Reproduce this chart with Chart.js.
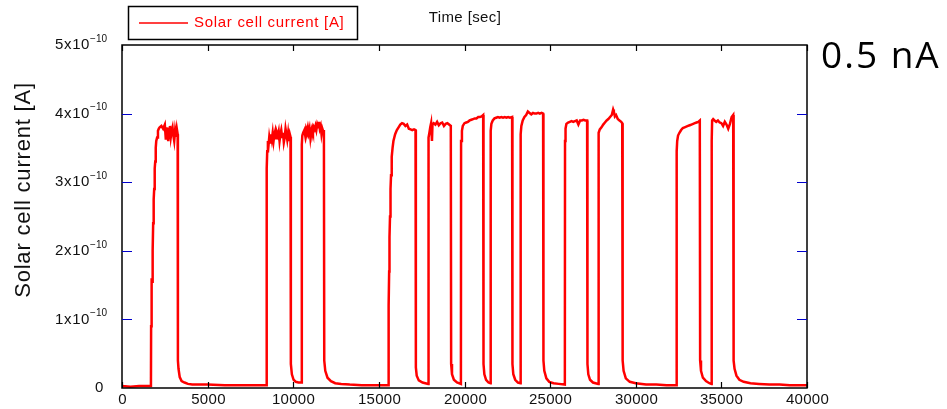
<!DOCTYPE html>
<html><head><meta charset="utf-8">
<script src="https://cdn.jsdelivr.net/npm/chart.js@4/dist/chart.umd.min.js"></script>
<style>html,body{margin:0;padding:0;background:#fff;overflow:hidden}canvas{display:block}</style>
</head><body>
<canvas id="c" width="947" height="409"></canvas>
<script>
// Time axis values [sec]
const timeSec = [
  0,500,1000,1500,1690,
  1700,1720,1740,1760,1790,1820,1850,1880,1910,1940,1970,2000,2050,2100,2150,2200,2300,2400,2500,2560,2600,2650,2700,2750,2800,2850,2900,2950,3000,3050,3100,3150,3200,3250,
  3265,3300,3370,3480,3650,3850,4100,4500,5000,6000,7000,8000,8440,
  8450,8480,8520,8560,8600,8650,8700,8750,8800,8850,8900,8950,9000,9050,9100,9150,9200,9250,9300,9350,9400,9450,9500,9550,9600,9650,9700,9750,9800,9840,
  9860,9920,10020,10150,10300,10480,
  10500,10530,10580,10650,10700,10750,10800,10850,10900,10950,11000,11050,11100,11150,11200,11250,11300,11350,11400,11450,11500,11550,11600,11650,11700,11750,11790,
  11810,11870,12000,12200,12450,12800,13300,14000,14700,15540,
  15560,15580,15600,15620,15650,15680,15710,15750,15800,15850,15950,16050,16150,16250,16350,16450,16550,16650,16750,16850,16950,17050,17140,
  17160,17210,17330,17550,17880,
  17890,17910,17950,18000,18050,18100,18130,18200,18300,18400,18500,18600,18700,18800,18900,19000,19100,19200,
  19220,19270,19380,19560,19790,
  19800,19850,19900,20000,20100,20200,20300,20400,20500,20600,20700,20800,20900,21000,21090,
  21110,21160,21260,21400,21520,
  21530,21570,21650,21750,21850,21950,22050,22150,22250,22350,22450,22550,22650,22780,
  22800,22850,22960,23120,23270,
  23280,23320,23400,23500,23600,23700,23800,23900,24000,24100,24200,24300,24400,24500,24590,
  24610,24660,24780,24950,25200,25500,25860,
  25870,25900,25950,26050,26150,26250,26350,26450,26550,26650,26750,26850,26950,27050,27160,
  27180,27230,27330,27500,27810,
  27815,27850,27900,28000,28100,28200,28300,28400,28500,28600,28680,28720,28780,28850,28950,29050,29150,29210,
  29235,29290,29420,29650,30000,30600,31200,31800,32380,
  32390,32420,32470,32550,32650,32750,32850,32950,33050,33150,33250,33350,33450,33550,33650,33740,
  33760,33810,33920,34100,34300,34425,
  34435,34460,34520,34600,34700,34800,34900,35000,35100,35200,35300,35400,35500,35600,35690,
  35715,35770,35880,36050,36300,36700,37200,37800,38400,39000,39500,40000
];
// Solar cell current in units of 1x10^-10 A
const currentE10 = [
  0.03,0.02,0.03,0.03,0.03,
  0.9,1.3,1.6,1.55,2.0,2.4,2.75,2.9,3.2,3.3,3.5,3.6,3.65,3.75,3.78,3.8,3.82,3.78,3.84,3.62,3.8,3.7,3.6,3.78,3.82,3.66,3.75,3.8,3.68,3.6,3.75,3.66,3.78,3.7,
  0.4,0.28,0.16,0.1,0.08,0.06,0.05,0.05,0.05,0.04,0.04,0.04,0.04,
  3.2,3.45,3.6,3.55,3.66,3.58,3.7,3.62,3.72,3.6,3.7,3.75,3.64,3.72,3.68,3.74,3.6,3.7,3.76,3.66,3.72,3.58,3.65,3.78,3.7,3.62,3.72,3.6,3.7,3.66,
  0.35,0.2,0.12,0.09,0.08,0.08,
  3.55,3.68,3.72,3.76,3.68,3.78,3.74,3.8,3.72,3.78,3.65,3.76,3.8,3.74,3.8,3.77,3.82,3.76,3.84,3.8,3.88,3.78,3.82,3.7,3.78,3.74,3.76,
  0.4,0.25,0.15,0.1,0.07,0.06,0.05,0.04,0.04,0.04,
  0.65,1.2,1.7,2.2,2.5,2.9,3.1,3.37,3.5,3.6,3.7,3.76,3.8,3.84,3.86,3.85,3.82,3.84,3.78,3.77,3.76,3.77,3.76,
  0.3,0.18,0.11,0.08,0.06,
  3.4,3.65,3.72,3.8,3.86,3.6,3.84,3.86,3.84,3.88,3.83,3.86,3.87,3.82,3.85,3.86,3.84,3.82,
  0.35,0.2,0.12,0.08,0.06,
  3.6,3.75,3.82,3.86,3.87,3.88,3.9,3.91,3.92,3.93,3.93,3.95,3.95,3.96,3.98,
  0.35,0.2,0.12,0.08,0.07,
  3.75,3.85,3.9,3.93,3.94,3.95,3.94,3.95,3.94,3.95,3.94,3.95,3.94,3.95,
  0.35,0.2,0.12,0.08,0.07,
  3.7,3.82,3.9,3.95,3.98,4.03,4.01,3.99,4.01,4.0,4.0,4.01,4.0,4.01,4.0,
  0.4,0.25,0.14,0.09,0.07,0.06,0.05,
  3.6,3.78,3.85,3.87,3.88,3.89,3.88,3.89,3.9,3.84,3.9,3.9,3.91,3.9,3.9,
  0.35,0.2,0.12,0.08,0.06,
  3.6,3.72,3.77,3.8,3.84,3.87,3.9,3.92,3.95,3.98,4.06,4.03,3.96,3.98,3.92,3.9,3.88,3.86,
  0.4,0.25,0.14,0.09,0.07,0.05,0.05,0.04,0.04,
  3.45,3.6,3.68,3.72,3.76,3.79,3.8,3.81,3.82,3.83,3.84,3.85,3.86,3.87,3.88,3.9,
  0.4,0.25,0.15,0.1,0.07,0.06,
  3.6,3.9,3.92,3.9,3.88,3.9,3.87,3.86,3.82,3.88,3.84,3.78,3.85,3.95,3.98,
  0.4,0.28,0.18,0.12,0.09,0.07,0.06,0.05,0.05,0.04,0.04,0.04
];
const xTickValues = [0,5000,10000,15000,20000,25000,30000,35000,40000];
const xTickLabels = ["0","5000","10000","15000","20000","25000","30000","35000","40000"];
const yTickBase = ["0","1x10","2x10","3x10","4x10","5x10"];
const yTickExp  = ["","\u221210","\u221210","\u221210","\u221210","\u221210"];
const seriesLabel = "Solar cell current [A]";
const yTitle = "Solar cell current [A]";
const xTitle = "Time [sec]";
const sideNote = "0.5 nA";

const FONT = "'Liberation Sans', Arial, sans-serif";

const decor = {
  id: 'decor',
  afterDraw(chart) {
    const ctx = chart.ctx;
    const a = chart.chartArea;
    const xs = chart.scales.x, ys = chart.scales.y;
    ctx.save();
    // frame
    ctx.strokeStyle = '#000';
    ctx.lineWidth = 1.5;
    ctx.strokeRect(a.left, a.top, a.right - a.left, a.bottom - a.top);
    // x tick marks (inside, top and bottom) and labels
    ctx.lineWidth = 1.2;
    ctx.fillStyle = '#111';
    ctx.font = '15px ' + FONT;
    ctx.letterSpacing = '0.3px';
    ctx.textAlign = 'center';
    ctx.textBaseline = 'middle';
    xs.ticks.forEach((t, i) => {
      const px = Math.round(xs.getPixelForValue(t.value)) + 0.5;
      ctx.beginPath();
      ctx.moveTo(px, a.bottom); ctx.lineTo(px, a.bottom - 6);
      ctx.moveTo(px, a.top); ctx.lineTo(px, a.top + 6);
      ctx.stroke();
      ctx.fillText(xTickLabels[i], px, 400);
    });
    // y tick marks (inside, blue, left and right)
    ctx.strokeStyle = '#0000cc';
    ctx.lineWidth = 1.2;
    ys.ticks.forEach(t => {
      if (t.value === 0 || t.value === 5) return;
      const py = Math.round(ys.getPixelForValue(t.value)) + 0.5;
      ctx.beginPath();
      ctx.moveTo(a.left, py); ctx.lineTo(a.left + 10, py);
      ctx.moveTo(a.right, py); ctx.lineTo(a.right - 10, py);
      ctx.stroke();
    });
    // y tick labels with superscripts
    ctx.fillStyle = '#111';
    ctx.textBaseline = 'middle';
    ys.ticks.forEach((t, i) => {
      const py = ys.getPixelForValue(t.value);
      const base = yTickBase[i], exp = yTickExp[i];
      ctx.font = '15px ' + FONT;
      ctx.letterSpacing = '0.6px';
      if (!exp) {
        ctx.textAlign = 'right';
        ctx.fillText(base, 104, py);
        return;
      }
      ctx.font = '10px ' + FONT;
      ctx.letterSpacing = '0px';
      const ew = ctx.measureText(exp).width;
      ctx.textAlign = 'right';
      ctx.fillText(exp, 107, py - 6);
      ctx.font = '15px ' + FONT;
      ctx.letterSpacing = '0.6px';
      ctx.fillText(base, 107 - ew, py);
    });
    ctx.letterSpacing = '0px';
    // y title
    ctx.save();
    ctx.translate(24, 190);
    ctx.rotate(-Math.PI / 2);
    ctx.font = '22px ' + FONT;
    ctx.letterSpacing = '0.8px';
    ctx.fillStyle = '#111';
    ctx.textAlign = 'center';
    ctx.textBaseline = 'middle';
    ctx.fillText(yTitle, 0, 0);
    ctx.restore();
    // x title (top)
    ctx.font = '15px ' + FONT;
    ctx.letterSpacing = '0.4px';
    ctx.fillStyle = '#111';
    ctx.textAlign = 'center';
    ctx.textBaseline = 'middle';
    ctx.fillText(xTitle, 465, 18);
    // legend box
    const ds = chart.data.datasets[0];
    ctx.letterSpacing = '0px';
    ctx.strokeStyle = '#000';
    ctx.lineWidth = 1.5;
    ctx.strokeRect(128.5, 6.5, 229, 33);
    ctx.strokeStyle = ds.borderColor;
    ctx.lineWidth = 1.3;
    ctx.beginPath(); ctx.moveTo(139, 23); ctx.lineTo(188, 23); ctx.stroke();
    ctx.font = '15px ' + FONT;
    ctx.letterSpacing = '0.7px';
    ctx.fillStyle = ds.borderColor;
    ctx.textAlign = 'left';
    ctx.fillText(ds.label, 194, 23);
    // side note
    ctx.font = "37px 'Open Sans', 'Noto Sans', sans-serif";
    ctx.letterSpacing = '2px';
    ctx.fillStyle = '#000';
    ctx.textAlign = 'left';
    ctx.textBaseline = 'alphabetic';
    ctx.fillText(sideNote, 821, 68);
    ctx.restore();
  }
};

new Chart(document.getElementById('c'), {
  type: 'line',
  data: {
    datasets: [{
      label: seriesLabel,
      data: timeSec.map((t, i) => ({ x: t, y: currentE10[i] })),
      borderColor: '#ff0000',
      backgroundColor: '#ff0000',
      borderWidth: 2.5,
      pointRadius: 0,
      tension: 0,
      fill: false
    }]
  },
  options: {
    responsive: false,
    animation: false,
    devicePixelRatio: 1,
    layout: { padding: { left: 0, right: 140, top: 45, bottom: 0 } },
    plugins: { legend: { display: false }, tooltip: { enabled: false } },
    scales: {
      x: {
        type: 'linear', min: 0, max: 40000,
        afterBuildTicks(s) { s.ticks = xTickValues.map(v => ({ value: v })); },
        ticks: { display: false },
        grid: { display: false },
        border: { display: false },
        afterFit(s) { s.height = 21; }
      },
      y: {
        type: 'linear', min: 0, max: 5,
        ticks: { stepSize: 1, display: false },
        grid: { display: false },
        border: { display: false },
        afterFit(s) { s.width = 122; }
      }
    }
  },
  plugins: [decor]
});
</script>
</body></html>
